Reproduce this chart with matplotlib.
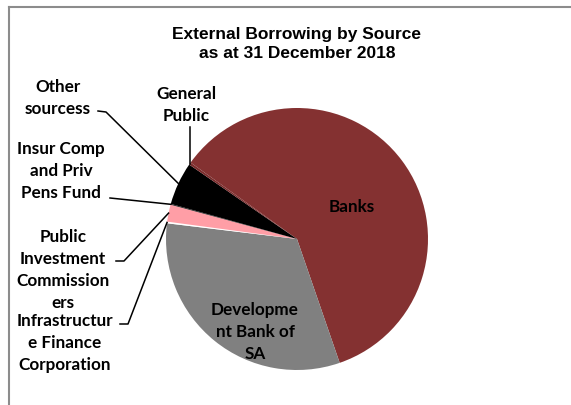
import numpy as np
import matplotlib.pyplot as plt
from matplotlib.lines import Line2D

# data
sources = ['Banks', 'Development Bank of SA', 'Infrastructure Finance Corporation',
           'Public Investment Commissioners', 'Insur Comp and Priv Pens Fund',
           'Other sourcess', 'General Public']
shares = [59.8, 32.2, 0.2, 2.1, 0.1, 5.3, 0.3]
colors = ['#843131', '#808080', '#ffffff', '#ff9ea6', '#111111', '#000000', '#7a2c2c']

W, H = 571, 406
fig = plt.figure(figsize=(W / 100, H / 100), dpi=100)
ax = fig.add_axes([0, 0, 1, 1])

cx, cy, r = 297, H - 240, 131
wedges, _ = ax.pie(shares, colors=colors, startangle=144.3, counterclock=False,
                   center=(cx, cy), radius=r, wedgeprops=dict(linewidth=0))
ax.set_xlim(0, W)
ax.set_ylim(0, H)
ax.set_aspect('equal')
ax.axis('off')


def edge_point(w, frac=0.5):
    a = np.deg2rad(w.theta1 + (w.theta2 - w.theta1) * frac)
    return cx + r * np.cos(a), cy + r * np.sin(a)


lbl = dict(fontsize=12.3, fontweight='bold', family='Lato', ha='center', va='center',
           linespacing=1.45, color='black')

fig.text(297 / W, 1 - 44 / H, 'External Borrowing by Source\nas at 31 December 2018',
         fontsize=12.5, fontweight='bold', family='Liberation Sans', ha='center', va='center',
         linespacing=1.4)

ax.text(352, H - 207, 'Banks', **lbl)
ax.text(255, H - 332, 'Developme\nnt Bank of\nSA', **lbl)

# outside labels with leader lines
ax.text(58, H - 98, 'Other\nsourcess', **lbl)
ax.text(186, H - 105, 'General\nPublic', **lbl)
ax.text(61, H - 171, 'Insur Comp\nand Priv\nPens Fund', **lbl)
ax.text(63, H - 270, 'Public\nInvestment\nCommission\ners', **lbl)
ax.text(65, H - 343, 'Infrastructur\ne Finance\nCorporation', **lbl)

leaders = [
    (5, [(98, 112), (106, 113)], 0.5),
    (6, [(190, 128)], 0.5),
    (4, [(110, 199)], 0.5),
    (3, [(116, 262), (124, 262)], 0.5),
    (2, [(120, 325), (128, 325)], 0.5),
]
for idx, pts, frac in leaders:
    ex, ey = edge_point(wedges[idx], frac)
    xs = [p[0] for p in pts] + [ex]
    ys = [H - p[1] for p in pts] + [ey]
    if idx == 6:
        xs[0] = ex
    ax.plot(xs, ys, color='black', lw=1.1)

# chart area border
fig.add_artist(Line2D([9 / W, 1], [1 - 8 / H, 1 - 8 / H], color='#8c8c8c', lw=1.5))
fig.add_artist(Line2D([9 / W, 9 / W], [0, 1 - 8 / H], color='#8c8c8c', lw=1.5))

fig.savefig('out.png', dpi=100)
